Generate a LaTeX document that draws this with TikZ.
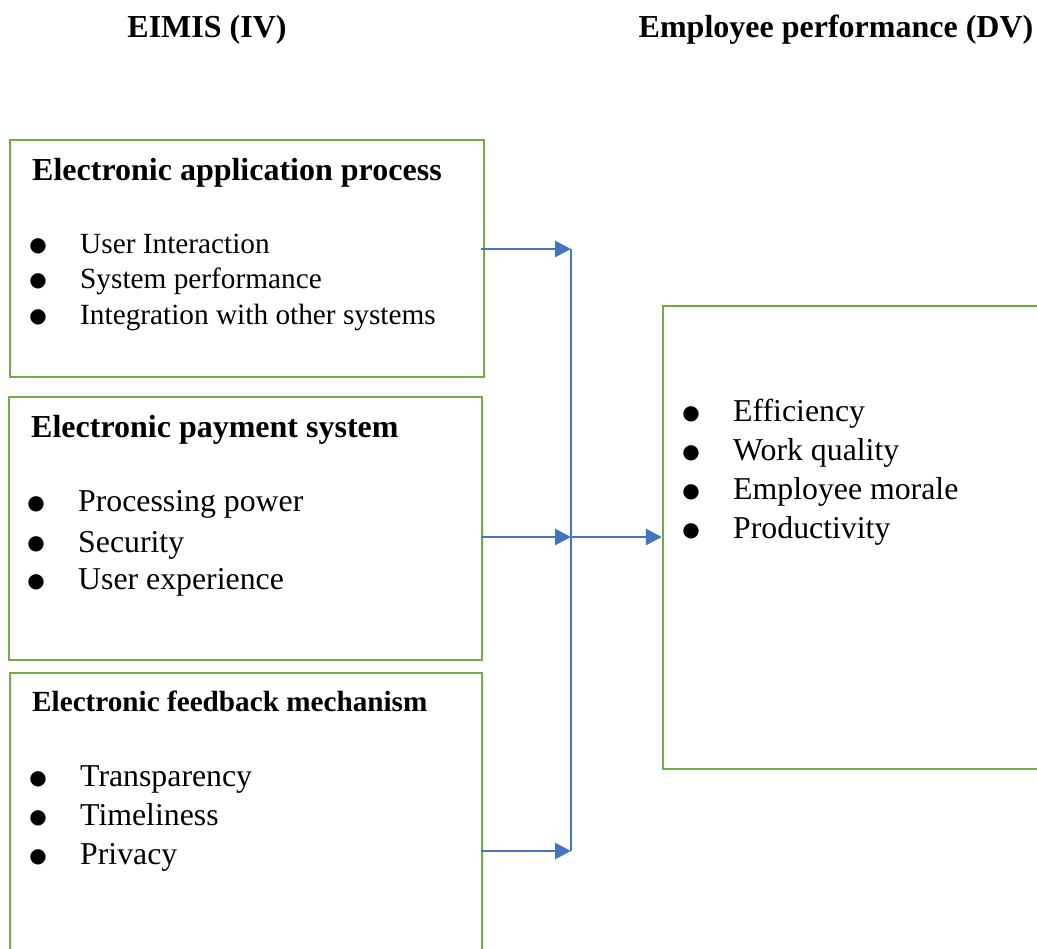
\documentclass[tikz,border=0pt]{standalone}
\usepackage{fontspec}
\setmainfont{Liberation Serif}
\newfontfamily\dotfont{DejaVu Sans}
\usetikzlibrary{arrows.meta}
\definecolor{boxgreen}{HTML}{70AD47}
\definecolor{linkblue}{HTML}{4472C4}
\tikzset{
  box/.style={draw=boxgreen, line width=2.4pt, rectangle, inner sep=0pt},
  link/.style={draw=linkblue, line width=2.8pt, -{Triangle[length=16pt,width=16pt]}},
  spine/.style={draw=linkblue, line width=1.5pt},
  txt/.style={anchor=base west, inner sep=0pt},
}
% list item: a round bullet hung 42pt to the left of the item text
\newcommand{\itm}[1]{\llap{\makebox[49pt][l]{\makebox[14pt][c]{\raisebox{2pt}{\dotfont\fontsize{20}{20}\selectfont ●}}}}#1}
\begin{document}
\begin{tikzpicture}[x=1pt,y=-1pt]
\useasboundingbox (0,0) rectangle (1037,949);
\clip (0,0) rectangle (1037,949);

% column titles
\node[anchor=base, inner sep=0pt, font=\bfseries\fontsize{32}{36}\selectfont] (t1) at (207,38) {EIMIS (IV)};
\node[anchor=base, inner sep=0pt, font=\bfseries\fontsize{32}{36}\selectfont] (t2) at (836,38) {Employee performance (DV)};

% independent variable boxes
\node[box, minimum width=474pt, minimum height=237pt] (b1) at (247,258.5) {};
\node[box, minimum width=473pt, minimum height=263pt] (b2) at (245.5,528.5) {};
\node[box, minimum width=472pt, minimum height=300pt] (b3) at (246,823) {};

% dependent variable box
\node[box, minimum width=400pt, minimum height=463pt] (d) at (863,537.5) {};

% box 1 text
\node[txt, font=\bfseries\fontsize{32}{36}\selectfont] (h1) at (32,181) {Electronic application process};
\begin{scope}[every node/.style={txt, font=\fontsize{29.3}{33}\selectfont}]
\node (a1) at (80,254) {\itm{User Interaction}};
\node (a2) at (80,289) {\itm{System performance}};
\node (a3) at (80,325) {\itm{Integration with other systems}};
\end{scope}

% box 2 text
\node[txt, font=\bfseries\fontsize{32}{36}\selectfont] (h2) at (31,438) {Electronic payment system};
\begin{scope}[every node/.style={txt, font=\fontsize{31.8}{36}\selectfont}]
\node (p1) at (78,512) {\itm{Processing power}};
\node (p2) at (78,552) {\itm{Security}};
\node (p3) at (78,590) {\itm{User experience}};
\end{scope}

% box 3 text
\node[txt, font=\bfseries\fontsize{29.2}{33}\selectfont] (h3) at (32,711) {Electronic feedback mechanism};
\begin{scope}[every node/.style={txt, font=\fontsize{31.8}{36}\selectfont}]
\node (f1) at (80,786) {\itm{Transparency}};
\node (f2) at (80,825) {\itm{Timeliness}};
\node (f3) at (80,864) {\itm{Privacy}};
\end{scope}

% outcome text
\begin{scope}[every node/.style={txt, font=\fontsize{31.8}{36}\selectfont}]
\node (e1) at (733,422) {\itm{Efficiency}};
\node (e2) at (733,461) {\itm{Work quality}};
\node (e3) at (733,500) {\itm{Employee morale}};
\node (e4) at (733,539) {\itm{Productivity}};
\end{scope}

% connectors
\coordinate (j1) at (571,249);
\coordinate (j2) at (571,537);
\coordinate (j3) at (571,851);
\draw[spine] (j1) -- (j3);
\draw[link] ([xshift=-4pt]b1.east |- j1) -- (j1);
\draw[link] ([xshift=-2pt]b2.east |- j2) -- (j2);
\draw[link] ([xshift=-2pt]b3.east |- j3) -- (j3);
\draw[link] (j2) -- (d.west |- j2);
\end{tikzpicture}
\end{document}
